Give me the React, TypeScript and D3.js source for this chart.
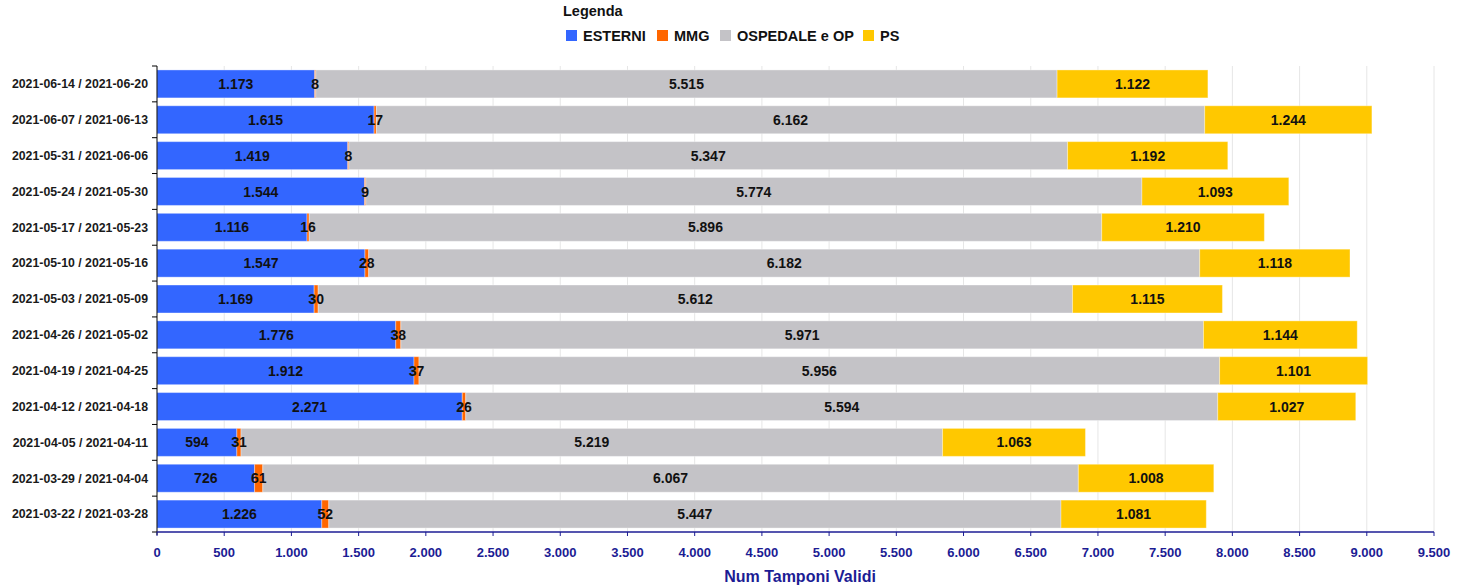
import { useEffect, useRef } from "react";
import * as d3 from "d3";

const weeks = [
  "2021-06-14 / 2021-06-20",
  "2021-06-07 / 2021-06-13",
  "2021-05-31 / 2021-06-06",
  "2021-05-24 / 2021-05-30",
  "2021-05-17 / 2021-05-23",
  "2021-05-10 / 2021-05-16",
  "2021-05-03 / 2021-05-09",
  "2021-04-26 / 2021-05-02",
  "2021-04-19 / 2021-04-25",
  "2021-04-12 / 2021-04-18",
  "2021-04-05 / 2021-04-11",
  "2021-03-29 / 2021-04-04",
  "2021-03-22 / 2021-03-28",
];

const seriesNames = ["ESTERNI", "MMG", "OSPEDALE e OP", "PS"];
const seriesColors = ["#3366ff", "#ff6600", "#c4c3c7", "#ffc800"];

const esterni = [1173, 1615, 1419, 1544, 1116, 1547, 1169, 1776, 1912, 2271, 594, 726, 1226];
const mmg = [8, 17, 8, 9, 16, 28, 30, 38, 37, 26, 31, 61, 52];
const ospedale = [5515, 6162, 5347, 5774, 5896, 6182, 5612, 5971, 5956, 5594, 5219, 6067, 5447];
const ps = [1122, 1244, 1192, 1093, 1210, 1118, 1115, 1144, 1101, 1027, 1063, 1008, 1081];

const xTicks = d3.range(0, 9501, 500);

const fmt = (v: number) =>
  v.toString().replace(/\B(?=(\d{3})+(?!\d))/g, ".");

const App = () => {
  const ref = useRef<SVGSVGElement>(null);

  useEffect(() => {
    const svg = d3.select(ref.current);
    svg.selectAll("*").remove();

    const width = 1464;
    const height = 587;
    const left = 157;
    const right = 1434;
    const top = 66;
    const bottom = 532;
    const font = "'Liberation Sans', Arial, sans-serif";
    const axisBlue = "#1c1c94";

    svg.attr("width", width).attr("height", height);

    const x = d3.scaleLinear().domain([0, 9500]).range([left, right]);
    const y = d3
      .scaleBand()
      .domain(weeks)
      .range([top, bottom])
      .paddingInner(0.22)
      .paddingOuter(0.11);

    // gridlines
    svg
      .append("g")
      .selectAll("line")
      .data(xTicks.slice(1))
      .join("line")
      .attr("x1", (d) => x(d))
      .attr("x2", (d) => x(d))
      .attr("y1", top)
      .attr("y2", bottom)
      .attr("stroke", "#e6e6e6")
      .attr("stroke-width", 1);

    // stacked data
    const rows = weeks.map((w, i) => ({
      week: w,
      [seriesNames[0]]: esterni[i],
      [seriesNames[1]]: mmg[i],
      [seriesNames[2]]: ospedale[i],
      [seriesNames[3]]: ps[i],
    }));
    const stack = d3.stack<any>().keys(seriesNames);
    const layers = stack(rows);

    const layerG = svg
      .append("g")
      .selectAll("g")
      .data(layers)
      .join("g")
      .attr("fill", (_, i) => seriesColors[i]);

    layerG
      .selectAll("rect")
      .data((d) => d)
      .join("rect")
      .attr("x", (d) => x(d[0]))
      .attr("y", (d: any) => y(d.data.week)!)
      .attr("width", (d) => x(d[1]) - x(d[0]))
      .attr("height", y.bandwidth())
      .attr("stroke", "#ffffff")
      .attr("stroke-opacity", 0.35)
      .attr("stroke-width", 1);

    // value labels
    const labelG = svg.append("g");
    layers.forEach((layer) => {
      labelG
        .append("g")
        .selectAll("text")
        .data(layer)
        .join("text")
        .attr("x", (d) => (x(d[0]) + x(d[1])) / 2)
        .attr("y", (d: any) => y(d.data.week)! + y.bandwidth() / 2)
        .attr("dy", "0.36em")
        .attr("text-anchor", "middle")
        .attr("font-family", font)
        .attr("font-weight", "bold")
        .attr("font-size", "14px")
        .attr("fill", "#111")
        .text((d) => fmt(d[1] - d[0]));
    });

    // y axis
    const yAxisG = svg.append("g");
    yAxisG
      .append("line")
      .attr("x1", left)
      .attr("x2", left)
      .attr("y1", top)
      .attr("y2", bottom + 3)
      .attr("stroke", "#000");
    const bounds = d3.range(weeks.length + 1).map((i) => top + (i * (bottom - top)) / weeks.length);
    yAxisG
      .selectAll("line.tick")
      .data(bounds)
      .join("line")
      .attr("class", "tick")
      .attr("x1", left - 5)
      .attr("x2", left)
      .attr("y1", (d) => d)
      .attr("y2", (d) => d)
      .attr("stroke", "#000");
    yAxisG
      .selectAll("text")
      .data(weeks)
      .join("text")
      .attr("x", left - 9)
      .attr("y", (d) => y(d)! + y.bandwidth() / 2)
      .attr("dy", "0.35em")
      .attr("text-anchor", "end")
      .attr("font-family", font)
      .attr("font-weight", "bold")
      .attr("font-size", "12.3px")
      .attr("fill", "#1a1a1a")
      .text((d) => d);

    // x axis
    const xAxisG = svg.append("g");
    xAxisG
      .append("line")
      .attr("x1", left)
      .attr("x2", right)
      .attr("y1", bottom)
      .attr("y2", bottom)
      .attr("stroke", axisBlue)
      .attr("stroke-width", 1.5);
    xAxisG
      .selectAll("line.tick")
      .data(xTicks)
      .join("line")
      .attr("class", "tick")
      .attr("x1", (d) => x(d))
      .attr("x2", (d) => x(d))
      .attr("y1", bottom)
      .attr("y2", bottom + 4)
      .attr("stroke", axisBlue);
    xAxisG
      .selectAll("text")
      .data(xTicks)
      .join("text")
      .attr("x", (d) => x(d))
      .attr("y", 557)
      .attr("text-anchor", "middle")
      .attr("font-family", font)
      .attr("font-weight", "bold")
      .attr("font-size", "13px")
      .attr("fill", axisBlue)
      .text((d) => fmt(d));
    svg
      .append("text")
      .attr("x", 800)
      .attr("y", 582)
      .attr("text-anchor", "middle")
      .attr("font-family", font)
      .attr("font-weight", "bold")
      .attr("font-size", "16px")
      .attr("fill", axisBlue)
      .text("Num Tamponi Validi");

    // legend
    const legend = svg.append("g");
    legend
      .append("text")
      .attr("x", 563)
      .attr("y", 16)
      .attr("font-family", font)
      .attr("font-weight", "bold")
      .attr("font-size", "14.5px")
      .attr("fill", "#111")
      .text("Legenda");
    const legendX = [566, 657, 720, 863];
    seriesNames.forEach((name, i) => {
      legend
        .append("rect")
        .attr("x", legendX[i])
        .attr("y", 30)
        .attr("width", 11)
        .attr("height", 11)
        .attr("fill", seriesColors[i]);
      legend
        .append("text")
        .attr("x", legendX[i] + 17)
        .attr("y", 41)
        .attr("font-family", font)
        .attr("font-weight", "bold")
        .attr("font-size", "14.5px")
        .attr("fill", "#111")
        .text(name);
    });
  }, []);

  return (
    <div style={{ position: "absolute", left: 0, top: 0 }}>
      <svg ref={ref} style={{ display: "block", background: "#fff" }} />
    </div>
  );
};

export default App;
